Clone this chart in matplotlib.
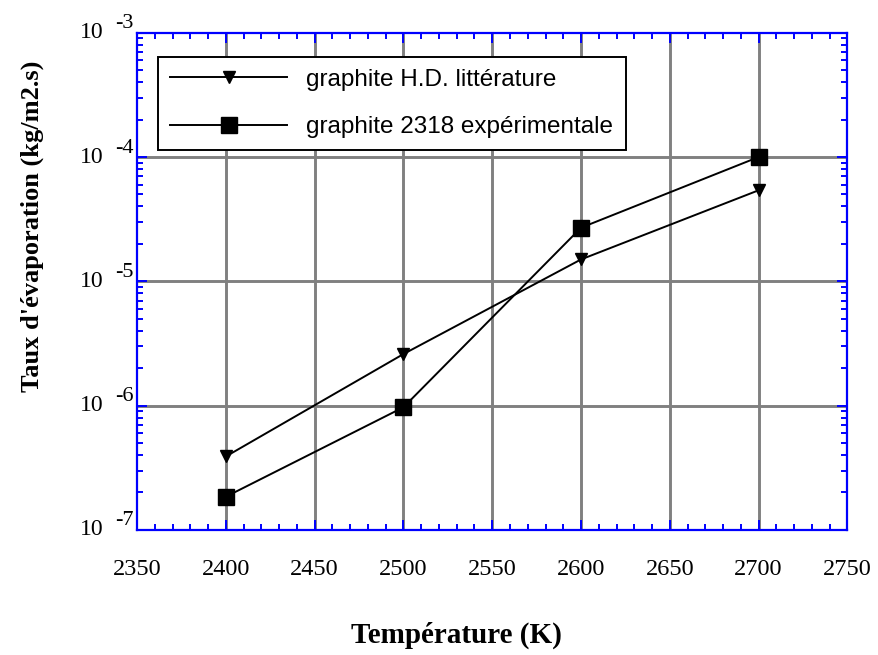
import matplotlib
matplotlib.use("Agg")
import matplotlib.pyplot as plt
import matplotlib.ticker as mticker
import matplotlib.transforms as mtransforms

# ---- data ------------------------------------------------------------------
temperature = [2400, 2500, 2600, 2700]
rate_litterature = [3.9e-7, 2.6e-6, 1.5e-5, 5.4e-5]
rate_experimentale = [1.85e-7, 0.97e-6, 2.7e-5, 1.0e-4]
label_litterature = "graphite H.D. littérature"
label_experimentale = "graphite 2318 expérimentale"
x_ticks = [2350, 2400, 2450, 2500, 2550, 2600, 2650, 2700, 2750]
y_exponents = [-3, -4, -5, -6, -7]

BLUE = "#0000ff"
GRID = "#808080"
SERIF = "Liberation Serif"
SANS = "Liberation Sans"

fig = plt.figure(figsize=(8.79, 6.55), dpi=100)
ax = fig.add_axes([0.156, 0.191, 0.808, 0.759])

ax.set_yscale("log")
ax.set_xlim(2350, 2750)
ax.set_ylim(1e-7, 1e-3)

# grid (drawn by hand so it sits under the data, including the right edge)
for xv in x_ticks[1:]:
    ax.axvline(xv, color=GRID, lw=2.1, zorder=0)
for e in y_exponents[1:-1]:
    ax.axhline(10.0 ** e, color=GRID, lw=2.1, zorder=0)

ax.plot(temperature, rate_litterature, color="black", lw=1.4, marker="v",
        markersize=8, label=label_litterature, zorder=3)
ax.plot(temperature, rate_experimentale, color="black", lw=1.4, marker="s",
        markersize=12, label=label_experimentale, zorder=3)

# spines and ticks
for sp in ax.spines.values():
    sp.set_color(BLUE)
    sp.set_linewidth(1.6)
    sp.set_zorder(4)

ax.xaxis.set_major_locator(mticker.FixedLocator(x_ticks))
ax.xaxis.set_minor_locator(mticker.MultipleLocator(10))
ax.yaxis.set_major_locator(mticker.LogLocator(base=10, numticks=10))
ax.yaxis.set_minor_locator(mticker.LogLocator(base=10, subs=range(2, 10), numticks=10))
ax.yaxis.set_minor_formatter(mticker.NullFormatter())
ax.yaxis.set_major_formatter(mticker.NullFormatter())

ax.tick_params(axis="both", which="both", direction="in", color=BLUE,
               top=True, right=True, width=1.4)
ax.tick_params(axis="both", which="major", length=7.5)
ax.tick_params(axis="both", which="minor", length=4.5)
ax.tick_params(axis="x", which="major", pad=21, labelsize=17.5)
for lab in ax.get_xticklabels():
    lab.set_family(SERIF)

# y tick labels as "10" with raised exponent
trans = mtransforms.blended_transform_factory(ax.transAxes, ax.transData)
for e in y_exponents:
    ax.annotate("10", xy=(0, 10.0 ** e), xycoords=trans, xytext=(-24.5, 0),
                textcoords="offset points", ha="right", va="center",
                fontsize=17, family=SERIF)
    ax.annotate(str(e), xy=(0, 10.0 ** e), xycoords=trans, xytext=(-16, 6.5),
                textcoords="offset points", ha="left", va="center",
                fontsize=16, family=SERIF)

ax.set_xlabel("Température (K)", fontsize=21, fontweight="bold", family=SERIF)
ax.xaxis.set_label_coords(0.449, -0.185)
ax.set_ylabel("Taux d'évaporation (kg/m2.s)", fontsize=19, fontweight="bold",
              family=SERIF)
ax.yaxis.set_label_coords(-0.131, 0.61)

leg = ax.legend(loc="upper left", bbox_to_anchor=(0.0296, 0.952), frameon=True,
                fancybox=False, edgecolor="black", framealpha=1,
                prop={"family": SANS, "size": 17.5}, handlelength=4.8,
                borderpad=0.5, labelspacing=1.05, handletextpad=0.8,
                borderaxespad=0)
leg.get_frame().set_linewidth(1.4)
leg.set_zorder(5)

fig.savefig("out.png", dpi=100)
